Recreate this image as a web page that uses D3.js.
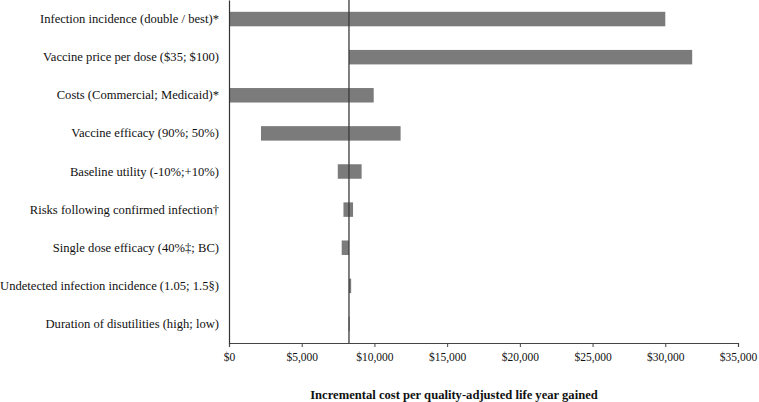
<!DOCTYPE html>
<html>
<head>
<meta charset="utf-8">
<script src="https://cdn.jsdelivr.net/npm/d3@7"></script>
<style>
  body { margin: 0; background: #fff; }
  svg { display: block; font-family: "Liberation Serif", "Times New Roman", serif; }
</style>
</head>
<body>
<svg id="svg"></svg>
<script>
// tornado chart values (ICER per QALY)
const categories = [
    "Infection incidence (double / best)*",
    "Vaccine price per dose ($35; $100)",
    "Costs (Commercial; Medicaid)*",
    "Vaccine efficacy (90%; 50%)",
    "Baseline utility (-10%;+10%)",
    "Risks following confirmed infection\u2020",
    "Single dose efficacy (40%\u2021; BC)",
    "Undetected infection incidence (1.05; 1.5\u00a7)",
    "Duration of disutilities (high; low)"
];
const lowValues  = [0, 8250, 0, 2200, 7480, 7870, 7750, 8250, 8230];
const highValues = [30000, 31850, 9950, 11800, 9120, 8530, 8250, 8400, 8280];
const baseCase = 8250;
const xTicks = [0, 5000, 10000, 15000, 20000, 25000, 30000, 35000];
const xTitle = "Incremental cost per quality-adjusted life year gained";

const data = categories.map((c, i) => ({ name: c, low: lowValues[i], high: highValues[i] }));

const totalW = 759, totalH = 402;
const margin = { top: 0, right: 21, bottom: 59, left: 229 },
    width = totalW - margin.left - margin.right,
    height = totalH - margin.top - margin.bottom;

const svg = d3.select("#svg")
    .attr("width", totalW)
    .attr("height", totalH)
    .append("g")
    .attr("transform", "translate(" + margin.left + "," + margin.top + ")");

const x = d3.scaleLinear()
    .domain([0, 35000])
    .range([0, width]);

const y = d3.scaleBand()
    .domain(categories)
    .range([0, height])
    .paddingInner(0.62)
    .paddingOuter(0.31);

// bars
svg.selectAll("rect.bar")
    .data(data)
    .enter().append("rect")
    .attr("class", "bar")
    .attr("x", d => x(Math.min(d.low, d.high)))
    .attr("y", d => y(d.name))
    .attr("width", d => Math.max(1, x(Math.max(d.low, d.high)) - x(Math.min(d.low, d.high))))
    .attr("height", y.bandwidth())
    .attr("fill", "#7b7b7b");

// base case line
svg.append("line")
    .attr("x1", x(baseCase)).attr("x2", x(baseCase))
    .attr("y1", 0).attr("y2", height)
    .attr("stroke", "#3a3a3a")
    .attr("stroke-width", 1.3);

// x axis
const xAxis = svg.append("g")
    .attr("transform", "translate(0," + height + ")")
    .call(d3.axisBottom(x)
        .tickValues(xTicks)
        .tickSize(4)
        .tickSizeOuter(4)
        .tickPadding(6)
        .tickFormat(d => "$" + d3.format(",")(d)));
xAxis.select(".domain").attr("stroke", "#444").attr("stroke-width", 1.2);
xAxis.selectAll(".tick line").attr("stroke", "#444");
xAxis.selectAll(".tick text")
    .attr("font-family", "Liberation Serif")
    .attr("font-size", 11.5)
    .attr("fill", "#111");

// y axis (line + labels only)
const yAxis = svg.append("g")
    .call(d3.axisLeft(y).tickSize(0).tickSizeOuter(0).tickPadding(10));
yAxis.select(".domain").attr("stroke", "#333").attr("stroke-width", 1.2);
yAxis.selectAll(".tick text")
    .attr("font-family", "Liberation Serif")
    .attr("font-size", 12.6)
    .attr("fill", "#111");

// axis title
svg.append("text")
    .attr("x", 225)
    .attr("y", height + 56)
    .attr("text-anchor", "middle")
    .attr("font-family", "Liberation Serif")
    .attr("font-weight", "bold")
    .attr("font-size", 12.6)
    .attr("fill", "#111")
    .text(xTitle);
</script>
</body>
</html>
